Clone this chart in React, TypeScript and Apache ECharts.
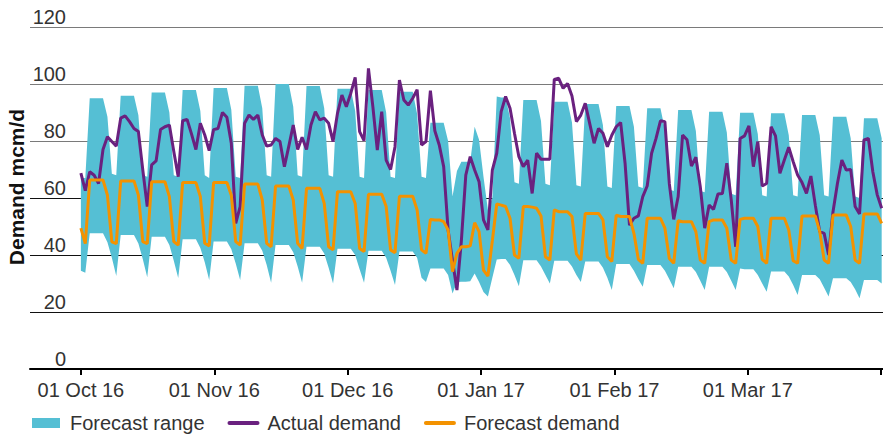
import React, { useEffect, useRef } from "react";
import * as echarts from "echarts";

// Day index 0 = 01 Oct 16 ... 181 = 31 Mar 17
const actualDemand = [
  68.7, 62.6, 69.2, 68, 65.1, 77, 81.5, 79.8, 78.2, 88, 88.8, 86.8, 84.4, 83.3, 69.8, 57,
  71.6, 73, 84, 85, 85.6, 76.3, 67.5, 87.1, 87.6, 82.5, 77, 86.2, 82.1, 76.6, 84, 84.4,
  90, 88.3, 79.2, 51.1, 57, 86.2, 89.1, 87.6, 89.1, 82.1, 78.2, 78.6, 80.9, 79.8, 71, 78.2,
  85.6, 77, 81.3, 77, 85.6, 90.3, 87.4, 88, 86.2, 79.8, 89.7, 96.1, 92, 96.7, 102.3, 83.3,
  80.1, 105.5, 92, 76.8, 90.3, 73.3, 70, 78, 101.4, 94.4, 92.6, 95, 98, 78.6, 79.8, 97.7,
  83.6, 78.6, 71, 48.8, 38, 27.7, 45, 68, 74.5, 69.8, 65.7, 52.3, 48.8, 69.8, 75.7, 90.3,
  95.6, 91.5, 82.7, 74.5, 71, 73.3, 61.6, 75.7, 73.6, 73.6, 73.6, 101.6, 102, 98.5, 100.2, 95.8,
  86.8, 89.1, 93.2, 86.2, 79.2, 84.4, 82.7, 78, 82, 85, 86.5, 72.2, 50.5, 52.9, 53.7, 60.5,
  64.2, 75.7, 80.9, 87.1, 86.8, 65.1, 52.5, 60.5, 82.1, 80.4, 71.2, 74.3, 64, 49.4, 57.5, 56,
  61.4, 61.6, 72.2, 59.3, 42.9, 80.9, 81.8, 85.3, 71, 79.8, 64.2, 65.1, 85, 81.8, 68.7, 73.3,
  77.8, 72.7, 68.1, 65.4, 61.6, 67.7, 57.5, 48.2, 47.6, 40, 55.2, 65.1, 73.3, 69.8, 70, 57,
  54.4, 80.4, 80.9, 69.2, 61.1, 56.4,
];

const forecastDemand = [
  49.4, 44,
  66.3, 66.3, 66.3, 66.3, 61, 44.6, 44,
  66, 66, 66, 66, 61, 44.7, 44,
  65.7, 65.7, 65.7, 65.7, 60.5, 44.7, 43.5,
  65.4, 65.4, 65.4, 65.4, 60.5, 44.1, 43.2,
  65.4, 65.4, 65.4, 65.4, 61, 44.7, 43.5,
  64.9, 64.9, 64.9, 64.9, 59.3, 44.1, 42.9,
  64.2, 64.2, 64.2, 64.2, 59.3, 44.1, 42.3,
  63.4, 63.4, 63.4, 63.4, 58.1, 42.9, 41.8,
  62.2, 62.2, 62.2, 62.2, 58.1, 42.3, 41.2,
  61.3, 61.3, 61.3, 61.3, 57, 41.8, 40.8,
  60.6, 60.6, 60.6, 60.6, 55.8, 41.8, 40.6,
  52.5, 52.3, 52.3, 51.7, 48.8, 34.2, 40.6,
  42.9, 42.9, 43.2, 51.3, 48.2, 34.7, 32.6,
  45, 57.9, 57.5, 57, 52.9, 40, 38.8,
  57, 57, 56.8, 56.4, 53.7, 39.4, 38.2,
  55.8, 55.2, 55.2, 55.2, 53.5, 40.4, 38.2,
  54.6, 54.6, 54.6, 54.6, 52.3, 39.4, 37.7,
  54, 53.5, 53.5, 53.5, 47.6, 38.5, 37.1,
  52.9, 52.9, 52.9, 52.9, 49.4, 38.8, 37.1,
  52, 51.7, 51.7, 51.7, 48.2, 38.2, 37.1,
  51.7, 52.3, 52.3, 52.3, 49.4, 38.2, 37.1,
  52.5, 52.9, 52.9, 52.9, 50, 38.5, 37.1,
  52.9, 52.9, 52.9, 52.9, 48.8, 38, 37.1,
  53.7, 53.7, 53.7, 53.7, 48.2, 38.2, 37.1,
  54, 54, 54, 54, 50, 38.2, 37.1,
  54.4, 54.4, 54.4, 54.4, 51.1,
];

const rangeHigh = [
  67, 67,
  95, 95, 95, 95, 88.5, 68.5, 68,
  95.9, 95.9, 95.9, 95.9, 89, 68, 67.5,
  97, 97, 97, 97, 90, 68, 67.5,
  97.9, 97.9, 97.9, 97.9, 90.5, 68, 67,
  98.6, 98.6, 98.6, 98.6, 91, 67.5, 67,
  99.4, 99.4, 99.4, 99.4, 91.5, 68, 67.5,
  100, 100, 100, 100, 92, 68, 67.5,
  99.3, 99.3, 99.3, 99.3, 91.5, 68, 67.5,
  98.3, 98.3, 98.3, 98.3, 90.5, 67.5, 67,
  97.9, 97.9, 97.9, 97.9, 90, 67.5, 67,
  97.3, 97.3, 97.3, 97.3, 89.5, 67.5, 67,
  86.4, 86.4, 86.4, 86.4, 80, 60.5, 69.5,
  72.7, 72.7, 72.7, 85, 80.4, 67.5, 55.8,
  60, 95.6, 95.3, 95.3, 88, 65.5, 65,
  94.4, 94.4, 94.4, 94.4, 87, 65, 64.5,
  93.8, 93.8, 93.8, 93.8, 86.5, 64.5, 64,
  93, 93, 93, 93, 85.5, 64, 63.5,
  92.3, 92.3, 92.3, 92.3, 85, 64, 63.5,
  91.5, 91.5, 91.5, 91.5, 84, 63, 62.5,
  90.9, 90.9, 90.9, 90.9, 83.5, 62.5, 62,
  90.3, 90.3, 90.3, 90.3, 83, 61.5, 61,
  89.9, 89.9, 89.9, 89.9, 82.5, 61, 60.5,
  89.7, 89.7, 89.7, 89.7, 82, 61, 60.5,
  89.1, 89.1, 89.1, 89.1, 82, 61, 60.5,
  88.5, 88.5, 88.5, 88.5, 81, 60.5, 60,
  88, 88, 88, 88, 81,
];

const rangeLow = [
  34.5, 33.8,
  47.6, 47.6, 47.6, 47.6, 44.5, 39, 32.6,
  47, 47, 47, 47, 44, 38.5, 32.2,
  46.4, 46.4, 46.4, 46.4, 43.5, 38, 31.9,
  45.5, 45.5, 45.5, 45.5, 42.5, 37.5, 31.2,
  44.7, 44.7, 44.7, 44.7, 42, 37, 31.2,
  44.1, 44.1, 44.1, 44.1, 41.5, 36.5, 30.3,
  43.5, 43.5, 43.5, 43.5, 41, 36, 30.3,
  42.9, 42.9, 42.9, 42.9, 40.5, 35.5, 30,
  42.2, 42.2, 42.2, 42.2, 40, 35, 30.3,
  41.5, 41.5, 41.5, 41.5, 39, 34.5, 29.5,
  41.2, 41.2, 41.2, 41.2, 39, 32, 30.5,
  35.3, 35.3, 35.3, 35.3, 33, 26.5, 30.5,
  30.6, 30.6, 30.8, 33.5, 30.5, 27, 25.4,
  32, 38.4, 38.6, 38.6, 36.5, 33, 29,
  38.2, 38.2, 38.2, 38.2, 36, 33, 30,
  38, 38, 38, 38, 36, 33, 30.5,
  37.7, 37.7, 37.7, 37.7, 35.5, 32, 27.7,
  36.8, 36.8, 36.8, 36.8, 34.5, 31.5, 28.9,
  36.5, 36.5, 36.5, 36.5, 34.5, 31.5, 28.3,
  35.9, 35.9, 35.9, 35.9, 34, 31, 27.7,
  35.9, 35.9, 35.9, 35.9, 34, 31, 27.7,
  35.3, 35, 35, 35, 33, 30, 27.1,
  34.2, 34.2, 34.2, 34.2, 32.5, 29.5, 26,
  33, 33, 33, 33, 31.5, 28.5, 25.4,
  31.8, 31.8, 31.8, 31.8, 30.5, 28, 24.8,
  31.2, 31.2, 31.2, 31.2, 30,
];

const tickDays = [0, 30.15, 60.3, 90.45, 120.6, 150.75, 180.9];
const tickLabels = ["01 Oct 16", "01 Nov 16", "01 Dec 16", "01 Jan 17", "01 Feb 17", "01 Mar 17"];
const yMin = 0;
const yMax = 120;
const yStep = 20;

const BLUE = "#55bfd4";
const PURPLE = "#6a217f";
const ORANGE = "#f39200";
const TEXT = "#333333";

const X_LABEL_FAMILY = "'Liberation Sans Narrow', 'Liberation Sans'";

function xLabelSize(): number {
  const ctx = document.createElement("canvas").getContext("2d");
  if (!ctx) return 16;
  ctx.font = `20px ${X_LABEL_FAMILY}`;
  const w = ctx.measureText(tickLabels[0]).width;
  if (!w) return 16;
  return Math.min(20, (20 * 87) / w);
}

export default function App() {
  const ref = useRef<HTMLDivElement>(null);

  useEffect(() => {
    document.body.style.margin = "0";
    if (!ref.current) return;
    const chart = echarts.init(ref.current, null, { renderer: "svg" });

    const xFontSize = xLabelSize();

    const band = rangeHigh.map((h, i) => [i, rangeLow[i], h]);
    const actual = actualDemand.map((v, i) => [i, v]);
    const forecast = forecastDemand.map((v, i) => [i, v]);

    chart.setOption({
      animation: false,
      textStyle: { fontFamily: "Liberation Sans" },
      grid: { left: 30, right: 0, top: 27, bottom: 69 },
      legend: {
        left: 32,
        top: 413,
        padding: 0,
        itemWidth: 28,
        itemHeight: 10,
        itemGap: 23,
        selectedMode: false,
        textStyle: { fontSize: 20, color: TEXT, fontFamily: "Liberation Sans", padding: [0, 0, 0, 5] },
        data: [
          { name: "Forecast range", icon: "rect", itemStyle: { color: BLUE } },
          { name: "Actual demand", lineStyle: { width: 4, cap: "round" }, itemStyle: { opacity: 0 } },
          { name: "Forecast demand", lineStyle: { width: 4, cap: "round" }, itemStyle: { opacity: 0 } },
        ],
      },
      xAxis: {
        type: "value",
        min: -11.5,
        max: 181.3,
        axisLine: { show: true, onZero: false, lineStyle: { color: "#000", width: 2 } },
        axisTick: { show: true, customValues: tickDays, length: 6, lineStyle: { color: "#000", width: 2 } },
        axisLabel: {
          customValues: tickDays.slice(0, tickLabels.length),
          formatter: (v: number) => {
            let best = 0;
            tickDays.forEach((t, k) => {
              if (Math.abs(t - v) < Math.abs(tickDays[best] - v)) best = k;
            });
            return tickLabels[best] ?? "";
          },
          margin: 11,
          color: TEXT,
          fontFamily: X_LABEL_FAMILY,
          fontSize: xFontSize,
        },
        splitLine: { show: false },
      },
      yAxis: {
        type: "value",
        min: yMin,
        max: yMax,
        interval: yStep,
        axisLine: { show: false },
        axisTick: { show: false },
        axisLabel: {
          inside: true,
          align: "right",
          verticalAlign: "bottom",
          margin: 36,
          fontSize: 20,
          lineHeight: 20,
          color: TEXT,
        },
        splitLine: {
          lineStyle: {
            width: 1,
            color: ["#000", "#111", "#111", "#111", "#7a7a7a", "#7a7a7a", "#7a7a7a"],
          },
        },
      },
      graphic: [
        {
          type: "text",
          x: 16,
          y: 187,
          rotation: Math.PI / 2,
          style: {
            text: "Demand mcm/d",
            fontSize: 21,
            fontWeight: "bold",
            fontFamily: "Liberation Sans",
            fill: "#111",
            align: "center",
            verticalAlign: "middle",
          },
        },
      ],
      series: [
        {
          type: "custom",
          name: "Forecast range",
          data: band,
          encode: { x: 0, y: [1, 2] },
          silent: true,
          itemStyle: { color: BLUE },
          z: 1,
          renderItem: (params: any, api: any) => {
            if (params.dataIndex !== 0) return null;
            const pts: number[][] = [];
            for (let i = 0; i < rangeHigh.length; i++) pts.push(api.coord([i, rangeHigh[i]]));
            for (let i = rangeLow.length - 1; i >= 0; i--) pts.push(api.coord([i, rangeLow[i]]));
            return { type: "polygon", shape: { points: pts }, style: { fill: BLUE } };
          },
        },
        {
          type: "line",
          name: "Actual demand",
          data: actual,
          symbol: "none",
          itemStyle: { color: PURPLE },
          lineStyle: { color: PURPLE, width: 3 },
          z: 3,
        },
        {
          type: "line",
          name: "Forecast demand",
          data: forecast,
          symbol: "none",
          itemStyle: { color: ORANGE },
          lineStyle: { color: ORANGE, width: 3 },
          z: 4,
        },
      ],
    });

    return () => chart.dispose();
  }, []);

  return <div ref={ref} style={{ width: 883, height: 438 }} />;
}
